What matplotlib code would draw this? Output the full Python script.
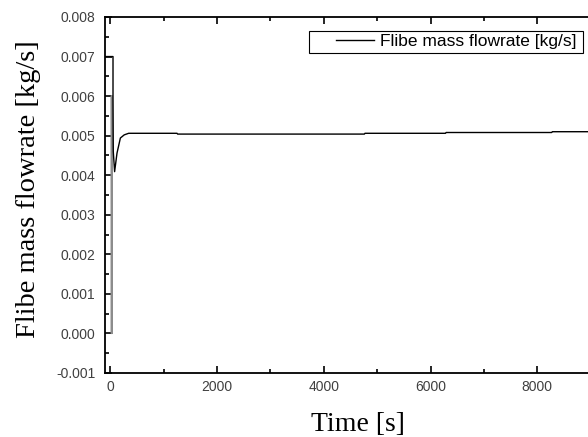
import matplotlib
matplotlib.use("Agg")
import matplotlib.pyplot as plt
from matplotlib.ticker import MultipleLocator, FixedLocator, FormatStrFormatter
from matplotlib.patches import Rectangle

# Data
time_s = [-100, 50, 50, 55, 80, 125, 188, 260, 343, 1250, 1260, 4760, 4770,
          6280, 6290, 8270, 8280, 10000]
flow_kgs = [0.0070, 0.0070, 0.0060, 0.0046, 0.00409, 0.00456, 0.00494, 0.00502,
            0.00506, 0.00506, 0.00504, 0.00504, 0.00506, 0.00506, 0.00508,
            0.00508, 0.00510, 0.00510]
# early fast oscillation (rendered grey in the reference)
osc_time_s = [18, 21, 24, 27, 30, 33, 36]
osc_flow_kgs = [0.0060, 0.0000, 0.0060, 0.0000, 0.0060, 0.0000, 0.0060]

x_major_ticks = [0, 2000, 4000, 6000, 8000]
x_minor_ticks = [1000, 3000, 5000, 7000, 9000]

series_label = "Flibe mass flowrate [kg/s]"
x_label = "Time [s]"
y_label = "Flibe mass flowrate [kg/s]"

W, H = 588, 437
fig = plt.figure(figsize=(W / 100, H / 100), dpi=100)
left_px, top_px, bottom_px = 105, 17, 373
xmin, xmax = -100, 10000
px_per_unit = (537 - 110) / 8000.0
right_px = left_px + (xmax - xmin) * px_per_unit
ax_w_px = right_px - left_px
ax_h_px = bottom_px - top_px
ax = fig.add_axes([left_px / W, 1 - bottom_px / H, ax_w_px / W, ax_h_px / H])

ax.plot(osc_time_s, osc_flow_kgs, color="#8c8c8c", lw=1.0)
ax.plot(time_s, flow_kgs, color="black", lw=1.0, label=series_label)

ax.set_xlim(xmin, xmax)
ax.set_ylim(-0.001, 0.008)
ax.xaxis.set_major_locator(FixedLocator(x_major_ticks))
ax.xaxis.set_minor_locator(FixedLocator(x_minor_ticks))
ax.yaxis.set_major_locator(MultipleLocator(0.001))
ax.yaxis.set_minor_locator(MultipleLocator(0.0005))
ax.yaxis.set_major_formatter(FormatStrFormatter("%.3f"))

ax.tick_params(which="both", direction="in", top=True, right=False,
               labelsize=10, labelcolor="#404040", width=1.2)
ax.tick_params(which="major", length=5)
ax.tick_params(axis="y", which="major", pad=7)
ax.tick_params(axis="x", which="major", pad=5)
ax.tick_params(which="minor", length=3)
for s in ax.spines.values():
    s.set_linewidth(1.3)

for lab in ax.get_xticklabels() + ax.get_yticklabels():
    lab.set_family("Liberation Sans")

ax.set_xlabel(x_label, fontsize=20, family="Liberation Serif")
ax.set_ylabel(y_label, fontsize=20.5, family="Liberation Serif")
ax.xaxis.set_label_coords((358 - left_px) / ax_w_px, -0.11)
ax.yaxis.set_label_coords((41 - left_px) / ax_w_px, (bottom_px - 189) / ax_h_px)

# legend frame (Origin style: wide box, line sample inset)
frame = Rectangle((309 / W, 1 - 53 / H), (583 - 309) / W, 22 / H,
                  transform=fig.transFigure, fill=True, facecolor="white",
                  edgecolor="black", lw=0.8, zorder=5, clip_on=False)
ax.add_patch(frame)
leg = ax.legend(loc="upper left", bbox_to_anchor=(336 / W, 1 - 34 / H),
                bbox_transform=fig.transFigure, frameon=False, borderpad=0,
                handlelength=2.2, handletextpad=0.35, borderaxespad=0,
                prop={"family": "Liberation Sans", "size": 12.5})
leg.set_zorder(6)

fig.savefig("out.png", dpi=100)
